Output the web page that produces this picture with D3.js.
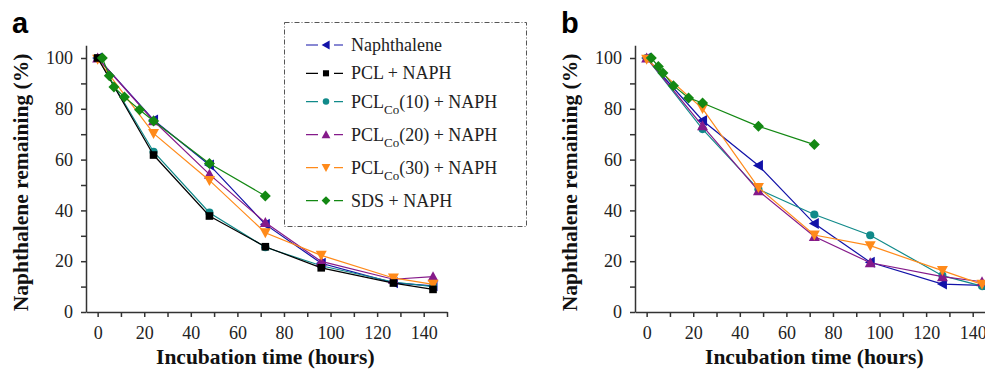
<!DOCTYPE html>
<meta charset="utf-8">
<style>
body { margin: 0; background: #fff; }
svg { display: block; }
.axis path, .axis line { stroke: #333; stroke-width: 1.5; fill: none; }
.axis text { font-family: "Liberation Serif", serif; font-size: 18px; fill: #222; }
.title { font-family: "Liberation Serif", serif; font-weight: bold; font-size: 21.5px; fill: #111; }
.panel { font-family: "Liberation Sans", Arial, sans-serif; font-weight: bold; font-size: 29px; fill: #000; }
.legend text { font-family: "Liberation Serif", serif; font-size: 18px; fill: #222; }
</style>
<body>
<script src="https://d3js.org/d3.v7.min.js"></script>
<script>
// series names, colors, markers
var names = ["Naphthalene", "PCL + NAPH", "PCL_Co(10) + NAPH", "PCL_Co(20) + NAPH", "PCL_Co(30) + NAPH", "SDS + NAPH"];
var colors = ["#1212a8", "#000000", "#118a8a", "#851a8a", "#ff8a1a", "#138813"];
var shapes = ["left", "square", "circle", "up", "down", "diamond"];

var timesMain = [0, 24, 48, 72, 96, 127, 144];
var timesSDS = [2, 5, 7, 11.5, 18, 24, 48, 72];

// panel a values (% remaining)
var aNaph  = [100, 75.6, 57.9, 34.5, 19.2, 11.5, 10.3];
var aPCL   = [100, 61.8, 37.8, 25.7, 17.4, 11.4, 8.9];
var aCo10  = [100, 63.1, 39.1, 25.5, 18.2, 11.8, 10.0];
var aCo20  = [100, 75.3, 54.2, 35.2, 19.9, 12.9, 13.9];
var aCo30  = [99.5, 70.3, 51.8, 31.2, 22.3, 13.4, 10.9];
var aSDS   = [100, 93.0, 88.6, 84.6, 79.6, 75.2, 58.5, 45.7];

// panel b values (% remaining)
var bNaph  = [100, 75.4, 57.7, 34.8, 19.6, 11.0, 10.5];
var bCo10  = [100, 72.0, 48.3, 38.4, 30.2, 14.3, 10.2];
var bCo20  = [100, 73.3, 47.7, 29.7, 19.4, 13.9, 11.9];
var bCo30  = [99.5, 80.1, 49.0, 30.3, 26.1, 16.3, 10.9];
var bSDS   = [100, 96.7, 94.1, 89.1, 84.3, 82.3, 73.1, 65.9];

var xTicks = d3.range(0, 151, 10);
var yTicks = d3.range(0, 101, 10);

var panelA = [
  {i: 0, t: timesMain, v: aNaph},
  {i: 2, t: timesMain, v: aCo10},
  {i: 3, t: timesMain, v: aCo20},
  {i: 4, t: timesMain, v: aCo30},
  {i: 1, t: timesMain, v: aPCL},
  {i: 5, t: timesSDS, v: aSDS}
];
var panelB = [
  {i: 0, t: timesMain, v: bNaph},
  {i: 2, t: timesMain, v: bCo10},
  {i: 3, t: timesMain, v: bCo20},
  {i: 4, t: timesMain, v: bCo30},
  {i: 5, t: timesSDS, v: bSDS}
];

var svg = d3.select("body").append("svg")
    .attr("width", 985)
    .attr("height", 369);

function marker(g, shape, color) {
  var s;
  if (shape === "square") s = d3.symbol(d3.symbolSquare, 58)();
  else if (shape === "circle") s = d3.symbol(d3.symbolCircle, 52)();
  else if (shape === "diamond") s = "M0,-5.5L5.5,0L0,5.5L-5.5,0Z";
  else if (shape === "up") s = "M0,-5.5L5.5,4.5L-5.5,4.5Z";
  else if (shape === "down") s = "M0,5.5L5.5,-4.5L-5.5,-4.5Z";
  else if (shape === "left") s = "M-5.5,0L4.5,-5.5L4.5,5.5Z";
  g.append("path").attr("d", s).attr("fill", color);
}

function drawPanel(left, series, letter) {
  var x = d3.scaleLinear().domain([-5, 150]).range([left, left + 361]);
  var y = d3.scaleLinear().domain([0, 105]).range([312, 45.3]);

  var xAxis = d3.axisBottom(x).tickValues(xTicks).tickSize(5).tickSizeOuter(0).tickPadding(9)
      .tickFormat(function(d) { return d % 20 === 0 ? d : ""; });
  var yAxis = d3.axisLeft(y).tickValues(yTicks).tickSize(5).tickSizeOuter(0).tickPadding(8)
      .tickFormat(function(d) { return d % 20 === 0 ? d : ""; });

  var gx = svg.append("g").attr("class", "axis")
      .attr("transform", "translate(0,312)")
      .call(xAxis);
  var gy = svg.append("g").attr("class", "axis")
      .attr("transform", "translate(" + x(-5) + ",0)")
      .call(yAxis);
  gx.attr("font-family", null).attr("font-size", null);
  gy.attr("font-family", null).attr("font-size", null);

  var line = d3.line().x(function(d) { return x(d[0]); }).y(function(d) { return y(d[1]); });

  series.forEach(function(s) {
    var pts = s.t.map(function(t, k) { return [t, s.v[k]]; });
    svg.append("path")
        .attr("d", line(pts))
        .attr("fill", "none")
        .attr("stroke", colors[s.i])
        .attr("stroke-width", 1.2);
    pts.forEach(function(p) {
      var g = svg.append("g").attr("transform", "translate(" + x(p[0]) + "," + y(p[1]) + ")");
      marker(g, shapes[s.i], colors[s.i]);
    });
  });

  svg.append("text").attr("class", "title")
      .attr("transform", "translate(" + (left - 58) + "," + y(51) + ") rotate(-90)")
      .attr("text-anchor", "middle")
      .text("Naphthalene remaining (%)");
  svg.append("text").attr("class", "title")
      .attr("x", x(72)).attr("y", 364)
      .attr("text-anchor", "middle")
      .text("Incubation time (hours)");
  svg.append("text").attr("class", "panel")
      .attr("x", left - 74).attr("y", 33)
      .text(letter);
}

drawPanel(86, panelA, "a");
drawPanel(635, panelB, "b");

// legend
var lg = svg.append("g").attr("class", "legend");
lg.append("rect")
    .attr("x", 284.5).attr("y", 22.5)
    .attr("width", 242).attr("height", 204)
    .attr("fill", "none")
    .attr("stroke", "#555")
    .attr("stroke-width", 1)
    .attr("stroke-dasharray", "5,2,1,2");

names.forEach(function(name, k) {
  var ry = 45 + 28.3 * Math.min(k, 2) + 33 * Math.max(0, k - 2);
  var row = lg.append("g").attr("transform", "translate(0," + ry + ")");
  row.append("line").attr("x1", 306).attr("x2", 343).attr("y1", 0).attr("y2", 0)
      .attr("stroke", colors[k]).attr("stroke-width", 1.2);
  row.append("rect").attr("x", 318).attr("y", -3).attr("width", 16).attr("height", 6).attr("fill", "#fff");
  var g = row.append("g").attr("transform", "translate(326,0) scale(0.8)");
  marker(g, shapes[k], colors[k]);
  var t = row.append("text").attr("x", 351).attr("y", 6);
  if (name.indexOf("_Co") >= 0) {
    var parts = name.split("_Co");
    t.append("tspan").text(parts[0]);
    t.append("tspan").attr("dy", 6).attr("font-size", "13px").text("Co");
    t.append("tspan").attr("dy", -6).text(parts[1]);
  } else {
    t.text(name);
  }
});
</script>
</body>
